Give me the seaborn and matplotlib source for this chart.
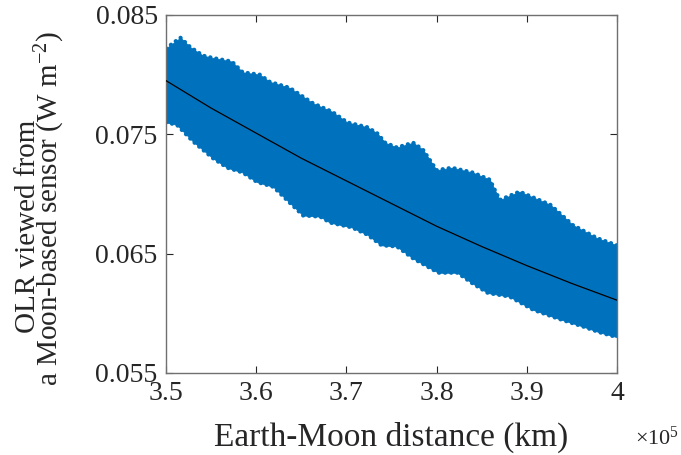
import numpy as np
import pandas as pd
import matplotlib
matplotlib.use("Agg")
import matplotlib.pyplot as plt
import seaborn as sns

# Earth-Moon distance in units of 1e5 km
upper_x = [3.500, 3.516, 3.527, 3.541, 3.552, 3.573, 3.585, 3.604, 3.615,
           3.637, 3.663, 3.684, 3.701, 3.723, 3.734, 3.743,
           3.756, 3.774, 3.785, 3.800, 3.817, 3.840, 3.859,
           3.870, 3.892, 3.926, 3.951, 3.978, 4.000]
upper_olr = [0.0822, 0.0831, 0.0823, 0.0816, 0.0814, 0.0811, 0.0802, 0.0800, 0.0794,
             0.0789, 0.0776, 0.0769, 0.0760, 0.0756, 0.0751, 0.0743,
             0.0739, 0.0743, 0.0737, 0.0720, 0.0722, 0.0718, 0.0712,
             0.0695, 0.0702, 0.0691, 0.0674, 0.0663, 0.0657]

lower_x = [3.500, 3.512, 3.530, 3.552, 3.568, 3.585, 3.601, 3.619,
           3.634, 3.652, 3.671, 3.682, 3.706, 3.723, 3.739,
           3.756, 3.774, 3.802, 3.823, 3.840, 3.857,
           3.881, 3.907, 3.933, 3.962, 3.981, 4.000]
lower_olr = [0.0760, 0.0758, 0.0744, 0.0730, 0.0722, 0.0718, 0.0710, 0.0706,
             0.0695, 0.0682, 0.0681, 0.0676, 0.0672, 0.0666, 0.0657,
             0.0656, 0.0646, 0.0634, 0.0634, 0.0625, 0.0617,
             0.0614, 0.0603, 0.0596, 0.0589, 0.0584, 0.0580]

# fitted OLR curve
fit_x = [3.50, 3.55, 3.60, 3.65, 3.70, 3.75, 3.80, 3.85, 3.90, 3.95, 4.00]
fit_olr = [0.0795, 0.0772, 0.0751, 0.0730, 0.0711, 0.0692, 0.0673, 0.0656, 0.0640, 0.0625, 0.0611]

x_ticks = [3.5, 3.6, 3.7, 3.8, 3.9, 4.0]
x_tick_labels = ["3.5", "3.6", "3.7", "3.8", "3.9", "4"]
y_ticks = [0.055, 0.065, 0.075, 0.085]
y_tick_labels = ["0.055", "0.065", "0.075", "0.085"]

sns.set_style("ticks")
plt.rcParams["font.family"] = ["Liberation Serif", "DejaVu Serif"]
plt.rcParams["mathtext.fontset"] = "custom"
plt.rcParams["mathtext.rm"] = "Liberation Serif"
plt.rcParams["mathtext.it"] = "Liberation Serif:italic"

blue = "#0072BD"
axis_col = "#262626"

fig = plt.figure(figsize=(6.81, 4.55), dpi=100)
ax = fig.add_axes([166 / 681, 1 - 373 / 455, (617 - 166) / 681, (373 - 15) / 455])

# band of sampled OLR values
grid = np.union1d(upper_x, lower_x)
up = np.interp(grid, upper_x, upper_olr)
lo = np.interp(grid, lower_x, lower_olr)
ax.fill_between(grid, lo, up, color=blue, linewidth=0.6, edgecolor=blue, zorder=2)
# speckled fringe of scattered samples along the band edges
for edge in (up, lo):
    ax.plot(grid, edge, color=blue, linewidth=3.0, linestyle=(0, (0.05, 1.4)),
            dash_capstyle="round", zorder=2)

fit = pd.DataFrame({"distance": fit_x, "olr": fit_olr})
sns.lineplot(data=fit, x="distance", y="olr", color="black", linewidth=0.9, ax=ax, zorder=3)

ax.set_xlim(3.5, 4.0)
ax.set_ylim(0.055, 0.085)
ax.set_xticks(x_ticks)
ax.set_xticklabels(x_tick_labels)
ax.set_yticks(y_ticks)
ax.set_yticklabels(y_tick_labels)
ax.tick_params(direction="in", length=5, width=0.8, colors=axis_col,
               labelsize=20, top=True, right=True, pad=6)
for lab in ax.get_xticklabels() + ax.get_yticklabels():
    lab.set_color(axis_col)
for s in ax.spines.values():
    s.set_visible(True)
    s.set_color("#707070")
    s.set_linewidth(1.0)

ax.set_xlabel("Earth-Moon distance (km)", fontsize=24, color=axis_col, labelpad=11)
ax.set_ylabel("")

# two-line y axis title
fig.text(41 / 681, 1 - 208 / 455,
         "OLR viewed from     \na Moon-based sensor (W m$^{-2}$)",
         fontsize=21, color=axis_col, rotation=90, ha="center", va="center",
         multialignment="center", linespacing=0.68)

fig.text(635 / 681, 1 - 438 / 455, r"$\times$10$^{5}$", fontsize=16,
         color=axis_col, ha="left", va="center")

fig.savefig("out.png", dpi=100)
